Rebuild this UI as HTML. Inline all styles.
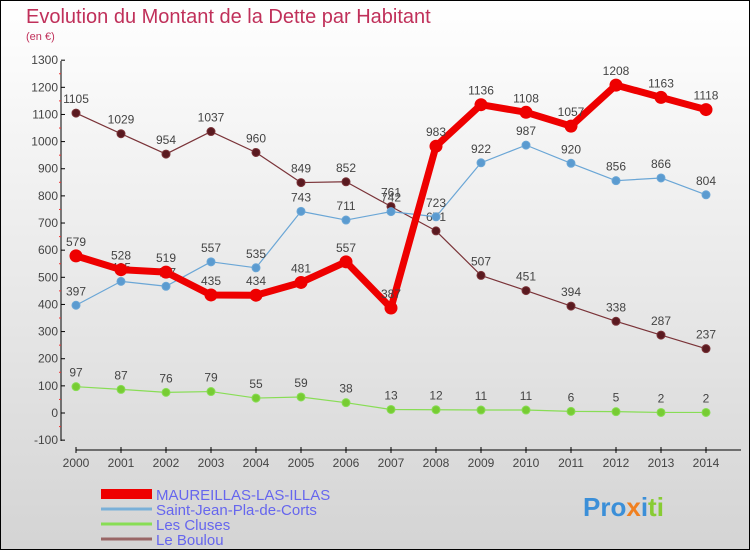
<!DOCTYPE html>
<html><head><meta charset="utf-8"><style>
body{margin:0}
#wrap{position:relative;width:748px;height:548px;border:1px solid #000;background:linear-gradient(#ffffff,#d4d4d4);font-family:"Liberation Sans",sans-serif;overflow:hidden}
svg{position:absolute;left:0;top:0}
</style></head><body>
<div id="wrap">
<svg id="chart" width="748" height="548"></svg>
</div>
<script>
const years=[2000,2001,2002,2003,2004,2005,2006,2007,2008,2009,2010,2011,2012,2013,2014];
const yTicks=[-100,0,100,200,300,400,500,600,700,800,900,1000,1100,1200,1300];
const maureillas=[579,528,519,435,434,481,557,387,983,1136,1108,1057,1208,1163,1118];
const saintJean=[397,485,467,557,535,743,711,742,723,922,987,920,856,866,804];
const cluses=[97,87,76,79,55,59,38,13,12,11,11,6,5,2,2];
const boulou=[1105,1029,954,1037,960,849,852,761,671,507,451,394,338,287,237];
const seriesNames=["MAUREILLAS-LAS-ILLAS","Saint-Jean-Pla-de-Corts","Les Cluses","Le Boulou"];

const NS="http://www.w3.org/2000/svg";
const svg=document.getElementById('chart');
function X(i){return 75+i*45;}
function Y(v){return 412-v*0.2714;}
function el(t,a,p){const e=document.createElementNS(NS,t);for(const k in a)e.setAttribute(k,a[k]);(p||svg).appendChild(e);return e;}

let t=el('text',{x:25,y:22,'font-size':20,fill:'#c0305a'});t.textContent="Evolution du Montant de la Dette par Habitant";


t=el('text',{x:25,y:39,'font-size':11,fill:'#c0305a'});t.textContent="(en €)";



let a=el('line',{x1:60,y1:60,x2:60,y2:440,stroke:'#000','stroke-width':1});


a=el('line',{x1:75,y1:449,x2:740,y2:449,stroke:'#000','stroke-width':1});


yTicks.forEach(v=>{
  el('line',{x1:60,y1:Y(v),x2:64,y2:Y(v),stroke:'#000'});
  if(v<1300) el('line',{x1:58,y1:Y(v+50),x2:60,y2:Y(v+50),stroke:'#e33'});
  const l=el('text',{x:57,y:Y(v)+4,'font-size':12,fill:'#444','text-anchor':'end'});l.textContent=v;
  
  
});
years.forEach((yr,i)=>{
  el('line',{x1:X(i),y1:446,x2:X(i),y2:452,stroke:'#000'});
  const l=el('text',{x:X(i),y:466,'font-size':12,fill:'#444','text-anchor':'middle'});l.textContent=yr;
  
  
});

function series(data,color,dot,w,r,name){
  const g=el('g',{});
  
  
  el('polyline',{points:data.map((v,i)=>X(i)+','+Y(v)).join(' '),fill:'none',stroke:color,'stroke-width':w,'stroke-linejoin':'round'},g);
  data.forEach((v,i)=>{
    const c=el('circle',{cx:X(i),cy:Y(v),r:r,fill:dot,stroke:color,'stroke-width':1},g);
    
    
    const l=el('text',{x:X(i),y:Y(v)-10,'font-size':12,fill:'#444','text-anchor':'middle'},g);l.textContent=v;
    
    
  });
}
series(boulou,'#7a3338','#5a1a20',1.2,4,'le-boulou-series');
series(cluses,'#88dd55','#77cc33',1.2,4,'les-cluses-series');
series(saintJean,'#6aa6d6','#5b9bd0',1.2,4,'saint-jean-series');
series(maureillas,'#ee0000','#ee0000',7,6,'maureillas-series');

const lc=['#ee0000','#7ab0d8','#88dd55','#996666'],lw=[10,3,3,3];
seriesNames.forEach((n,i)=>{
  const y=493+i*15;
  const g=el('g',{});
  
  
  el('line',{x1:100,y1:y,x2:151,y2:y,stroke:lc[i],'stroke-width':lw[i]},g);
  const l=el('text',{x:155,y:y+6,'font-size':15,fill:'#6666ee'},g);l.textContent=n;
});
t=el('text',{x:582,y:515,'font-size':26,'font-weight':'bold',fill:'#f0a020'});
t.innerHTML='<tspan fill="#3b8fd8">Pro</tspan><tspan fill="#f08020">x</tspan><tspan fill="#3b8fd8">i</tspan><tspan fill="#88cc33">ti</tspan>';


</script>
</body></html>
